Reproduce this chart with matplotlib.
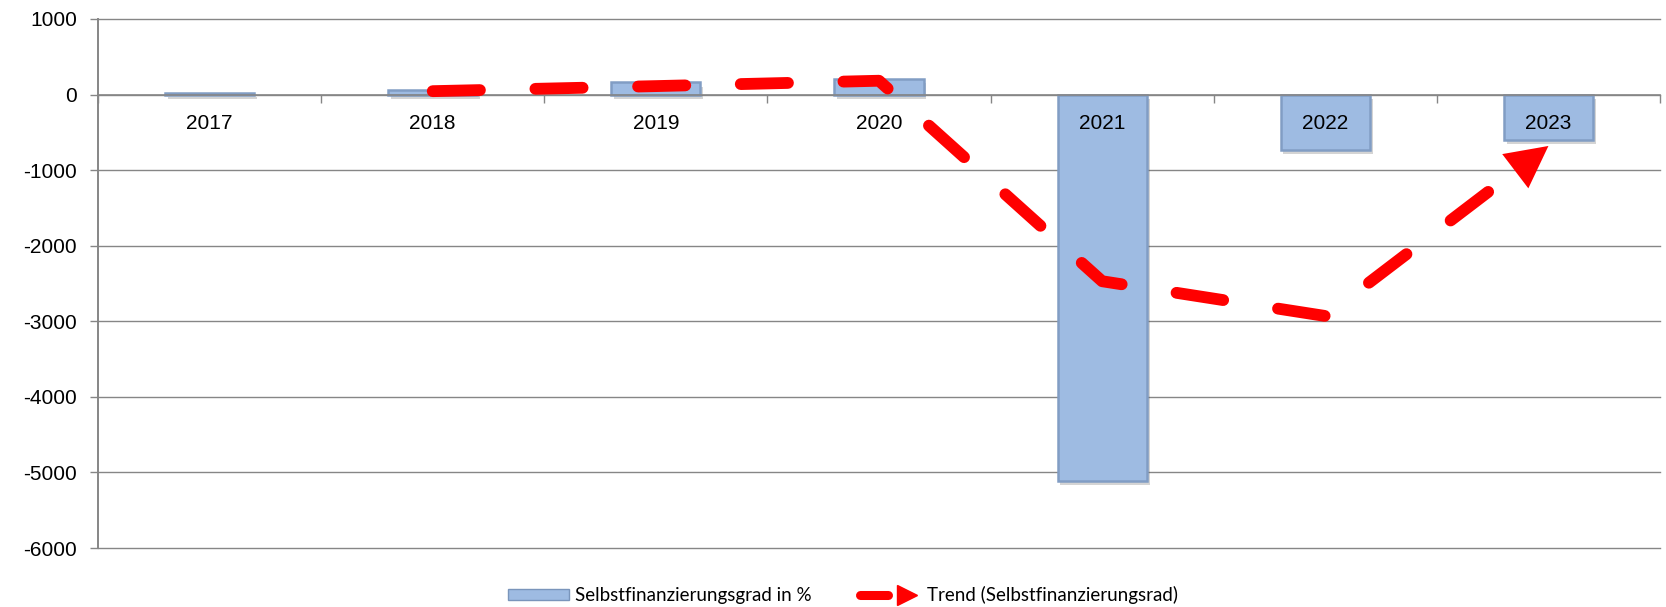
import matplotlib
matplotlib.use("Agg")
import matplotlib.pyplot as plt
import numpy as np
from matplotlib.lines import Line2D
from matplotlib.patches import Patch, FancyArrowPatch
from matplotlib.legend_handler import HandlerTuple
import matplotlib.patheffects as pe

# ---- data ----
years = ["2017", "2018", "2019", "2020", "2021", "2022", "2023"]
selbstfinanzierungsgrad = [25, 65, 160, 205, -5110, -730, -600]
trend_years = ["2018", "2019", "2020", "2021", "2022", "2023"]
trend_values = [45, 112, 183, -2470, -2930, -680]
y_ticks = [1000, 0, -1000, -2000, -3000, -4000, -5000, -6000]
bar_label = "Selbstfinanzierungsgrad in %"
trend_label = "Trend (Selbstfinanzierungsrad)"

W, H = 1666, 607
fig = plt.figure(figsize=(W / 100, H / 100), dpi=100)
fig.patch.set_facecolor("white")
left, right, top, bottom = 98, 1660, 19, 548
ax = fig.add_axes([left / W, 1 - bottom / H, (right - left) / W, (bottom - top) / H])

grid_col = "#868686"
bar_face = "#9ebbe2"
bar_edge = "#819dc4"
x = np.arange(len(years))
bars = ax.bar(x, selbstfinanzierungsgrad, width=0.4, color=bar_face,
              edgecolor=bar_edge, linewidth=1.8, zorder=2)
for b in bars:
    b.set_path_effects([pe.SimplePatchShadow(offset=(2, -3), alpha=0.25, shadow_rgbFace="#555555"),
                        pe.Normal()])

# axes limits first (needed for arrow geometry)
ax.set_xlim(-0.5, len(years) - 0.5)
ax.set_ylim(-6000, 1000)

# trend line, ending at the base of the arrow head
tx = [years.index(y) for y in trend_years]
head_len_pt = 30
head_len_px = head_len_pt * fig.dpi / 72.0
p_prev = ax.transData.transform((tx[-2], trend_values[-2]))
p_end = ax.transData.transform((tx[-1], trend_values[-1]))
d = (p_end - p_prev) / np.hypot(*(p_end - p_prev))
base = ax.transData.inverted().transform(p_end - d * head_len_px * 0.8)
line_x = list(tx[:-1]) + [base[0]]
line_y = list(trend_values[:-1]) + [base[1]]
ax.plot(line_x, line_y, color="#ff0000", lw=8.5, linestyle=(0, (4.0, 4.7)),
        dash_capstyle="round", dash_joinstyle="round", zorder=6)
arrow = FancyArrowPatch(posA=(tx[-2], trend_values[-2]), posB=(tx[-1], trend_values[-1]),
                        arrowstyle=f"-|>,head_length={head_len_pt},head_width=15.5", mutation_scale=1,
                        color="#ff0000", lw=0, shrinkA=0, shrinkB=0, zorder=7)
ax.add_patch(arrow)

# axes styling
ax.set_yticks(y_ticks)
ax.set_yticklabels([str(v) for v in y_ticks])
ax.yaxis.grid(True, color=grid_col, lw=1.0)
ax.set_xticks(x)
ax.set_xticklabels(years)
ax.set_xticks(np.arange(-0.5, len(years), 1.0), minor=True)

for s in ["top", "right"]:
    ax.spines[s].set_visible(False)
ax.spines["bottom"].set_position(("data", 0))
ax.spines["bottom"].set_color(grid_col)
ax.spines["bottom"].set_linewidth(1.2)
ax.spines["left"].set_color(grid_col)
ax.spines["left"].set_linewidth(1.4)

ax.tick_params(axis="x", which="major", length=0, pad=14, labelsize=15)
ax.tick_params(axis="x", which="minor", length=6, direction="out", color=grid_col, width=1)
ax.tick_params(axis="y", length=6, direction="out", color=grid_col, width=1, pad=9, labelsize=15)
for lab in ax.get_xticklabels() + ax.get_yticklabels():
    lab.set_fontfamily(["Liberation Sans", "DejaVu Sans"])

ax.yaxis.set_zorder(0.5)
ax.xaxis.set_zorder(5)
for gl in ax.get_ygridlines():
    gl.set_clip_on(False)

# legend
h1 = Patch(facecolor=bar_face, edgecolor="#7a95bb", linewidth=1.0)
h2a = Line2D([], [], color="#ff0000", lw=6.5, solid_capstyle="round")
h2b = Line2D([], [], color="#ff0000", ls="none", marker=">", markersize=15)
fig.legend([h1, (h2a, h2b)], [bar_label, trend_label],
           handler_map={tuple: HandlerTuple(ndivide=2, pad=0.3)},
           loc="center", bbox_to_anchor=(0.506, 0.02), ncol=2, frameon=False,
           prop=dict(family=["Lato", "DejaVu Sans"], size=13.5),
           handlelength=3.25, handleheight=0.55, handletextpad=0.3, columnspacing=2.6)

fig.savefig("out.png", dpi=100, facecolor="white")
